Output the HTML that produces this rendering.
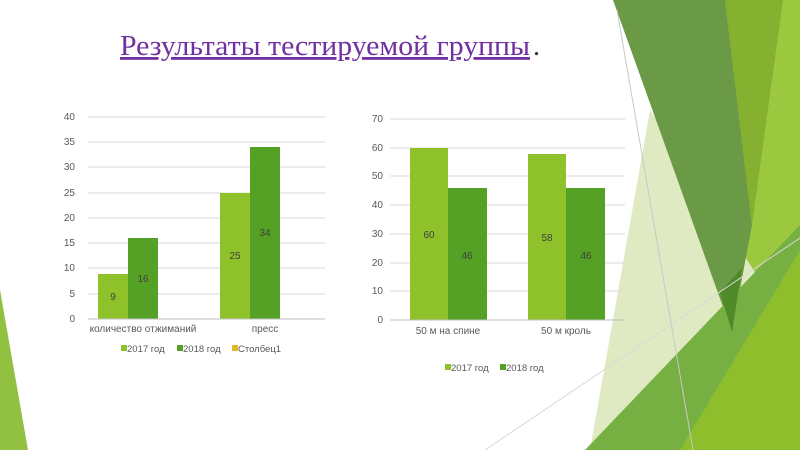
<!DOCTYPE html>
<html><head><meta charset="utf-8"><style>
html,body{margin:0;padding:0;background:#fff;}
svg{display:block;font-family:"Liberation Sans","DejaVu Sans",sans-serif;}
</style></head><body>
<svg width="800" height="450" viewBox="0 0 800 450" xmlns="http://www.w3.org/2000/svg">
<!-- decoration -->
<polygon points="0,290 28,450 0,450" fill="#92c040"/>
<polygon points="725,0 800,0 800,450 700,450" fill="#9bc83f"/>
<polygon points="650,110 590,450 760,280" fill="#dfeac2"/>
<polygon points="613,0 725,0 752,225 732,332" fill="#6b9a46"/>
<polygon points="725,0 783,0 752,225" fill="#86b030"/>
<polygon points="585,450 800,225 800,450" fill="#76b043"/>
<polygon points="680,450 800,250 800,450" fill="#8fbe2c"/>
<polygon points="720,292 742,268 732,332" fill="#4e8a28"/>
<line x1="617" y1="10" x2="693" y2="450" stroke="#c8c8c8" stroke-width="1"/>
<line x1="485" y1="450" x2="800" y2="238" stroke="#d8d8d8" stroke-width="1"/>
<!-- title -->
<text x="120" y="55" font-family="Liberation Serif,serif" font-size="28" fill="#7030a0" text-decoration="underline" textLength="410" lengthAdjust="spacingAndGlyphs">Результаты тестируемой группы</text>
<text x="533" y="55" font-family="Liberation Serif,serif" font-size="28" fill="#333">.</text>
<!-- left chart -->
<g stroke="#d9d9d9" stroke-width="1">
<line x1="88" y1="117" x2="325" y2="117"/><line x1="88" y1="142" x2="325" y2="142"/>
<line x1="88" y1="167" x2="325" y2="167"/><line x1="88" y1="193" x2="325" y2="193"/>
<line x1="88" y1="218" x2="325" y2="218"/><line x1="88" y1="243" x2="325" y2="243"/>
<line x1="88" y1="268" x2="325" y2="268"/><line x1="88" y1="294" x2="325" y2="294"/>
</g>
<rect x="98" y="274" width="30" height="45" fill="#8fc12a"/>
<rect x="128" y="238" width="30" height="81" fill="#55a125"/>
<rect x="220" y="193" width="30" height="126" fill="#8fc12a"/>
<rect x="250" y="147" width="30" height="172" fill="#55a125"/>
<line x1="88" y1="319" x2="325" y2="319" stroke="#bfbfbf"/>
<g font-size="10" fill="#595959" text-anchor="end">
<text x="75" y="120">40</text><text x="75" y="145">35</text><text x="75" y="170">30</text><text x="75" y="196">25</text>
<text x="75" y="221">20</text><text x="75" y="246">15</text><text x="75" y="271">10</text><text x="75" y="297">5</text><text x="75" y="322">0</text>
</g>
<g font-size="10" fill="#404040" text-anchor="middle">
<text x="113" y="300">9</text><text x="143" y="282">16</text><text x="235" y="259">25</text><text x="265" y="236">34</text>
</g>
<g font-size="10" fill="#595959" text-anchor="middle">
<text x="143" y="332">количество отжиманий</text><text x="265" y="332">пресс</text>
</g>
<g font-size="9.5" fill="#595959">
<rect x="121" y="345" width="6" height="6" fill="#8fc12a"/><text x="127" y="352">2017 год</text>
<rect x="177" y="345" width="6" height="6" fill="#55a125"/><text x="183" y="352">2018 год</text>
<rect x="232" y="345" width="6" height="6" fill="#e4b82c"/><text x="238" y="352">Столбец1</text>
</g>
<!-- right chart -->
<g stroke="#d9d9d9" stroke-width="1">
<line x1="390" y1="119" x2="625" y2="119"/><line x1="390" y1="148" x2="625" y2="148"/>
<line x1="390" y1="176" x2="625" y2="176"/><line x1="390" y1="205" x2="625" y2="205"/>
<line x1="390" y1="234" x2="625" y2="234"/><line x1="390" y1="263" x2="625" y2="263"/>
<line x1="390" y1="291" x2="625" y2="291"/>
</g>
<rect x="410" y="148" width="38" height="172" fill="#8fc12a"/>
<rect x="448" y="188" width="39" height="132" fill="#55a125"/>
<rect x="528" y="154" width="38" height="166" fill="#8fc12a"/>
<rect x="566" y="188" width="39" height="132" fill="#55a125"/>
<line x1="390" y1="320" x2="625" y2="320" stroke="#bfbfbf"/>
<g font-size="10" fill="#595959" text-anchor="end">
<text x="383" y="122">70</text><text x="383" y="151">60</text><text x="383" y="179">50</text><text x="383" y="208">40</text>
<text x="383" y="237">30</text><text x="383" y="266">20</text><text x="383" y="294">10</text><text x="383" y="323">0</text>
</g>
<g font-size="10" fill="#404040" text-anchor="middle">
<text x="429" y="238">60</text><text x="467" y="259">46</text><text x="547" y="241">58</text><text x="586" y="259">46</text>
</g>
<g font-size="10" fill="#595959" text-anchor="middle">
<text x="448" y="334">50 м на спине</text><text x="566" y="334">50 м кроль</text>
</g>
<g font-size="9.5" fill="#595959">
<rect x="445" y="364" width="6" height="6" fill="#8fc12a"/><text x="451" y="371">2017 год</text>
<rect x="500" y="364" width="6" height="6" fill="#55a125"/><text x="506" y="371">2018 год</text>
</g>
</svg>
</body></html>
